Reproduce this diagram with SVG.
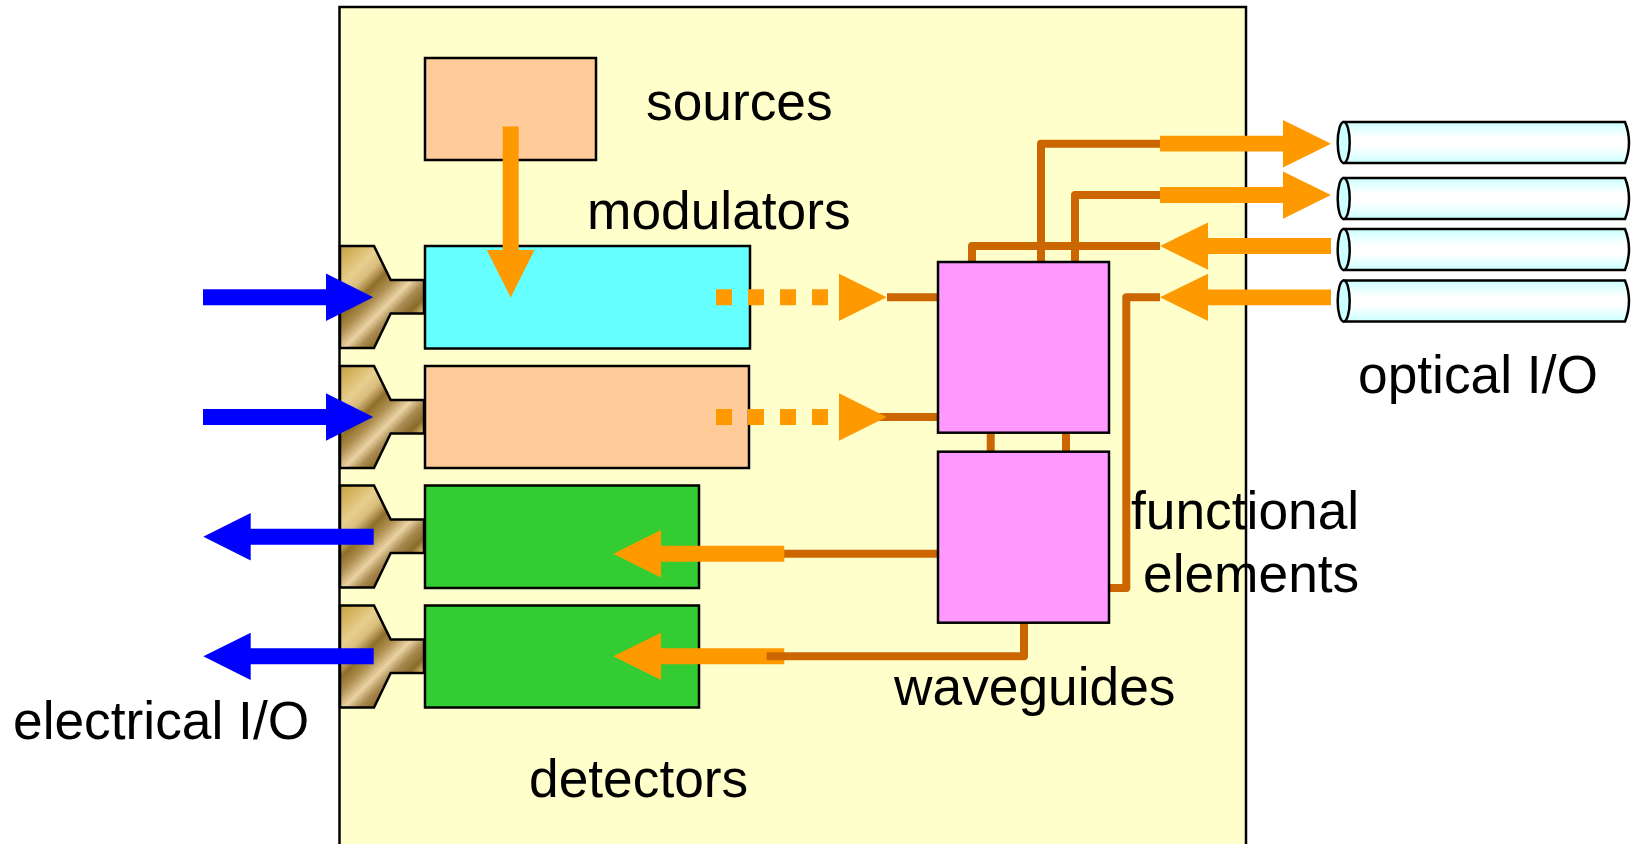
<svg xmlns="http://www.w3.org/2000/svg" width="1639" height="844" viewBox="0 0 1639 844">
<style>
.box{stroke:#000;stroke-width:2.5}
.wg{fill:none;stroke:#CC6600;stroke-width:8;stroke-linejoin:round}
.lt{fill:#FF9900}
.bl{fill:#0000FF}
.tube{fill:url(#tg);stroke:#000;stroke-width:2.5}
.cap{fill:#CCFFFF;stroke:#000;stroke-width:2.5}
.conn{fill:url(#gold);stroke:#000;stroke-width:2.5}
text{font-family:"Liberation Sans",Arial,sans-serif;font-size:53.3px;fill:#000}
</style>
<defs>
<linearGradient id="tg" x1="0" y1="0" x2="0" y2="1">
<stop offset="0" stop-color="#CCFFFF"/><stop offset=".4" stop-color="#FFFFFF"/><stop offset=".6" stop-color="#FFFFFF"/><stop offset="1" stop-color="#CCFFFF"/>
</linearGradient>
<linearGradient id="gold" gradientUnits="userSpaceOnUse" x1="0" y1="0" x2="75.700" y2="75.700">
<stop offset="0" stop-color="#C6A040"/><stop offset=".12" stop-color="#D4B45E"/><stop offset=".27" stop-color="#E8CF90"/><stop offset=".37" stop-color="#D8BC7C"/><stop offset=".48" stop-color="#8E6E28"/><stop offset=".58" stop-color="#B09050"/><stop offset=".7" stop-color="#EBD3A5"/><stop offset=".8" stop-color="#A88A50"/><stop offset=".9" stop-color="#8A6A28"/><stop offset="1" stop-color="#E8CC80"/>
</linearGradient>
<path id="cshape" class="conn" d="M0 0H34L50.700 34H84V67.500H50.700L34 102H0Z"/>
</defs>
<rect id="substrate" x="339.500" y="7" width="906.500" height="845" fill="#FFFFCC" stroke="#000" stroke-width="2.500"/>

<g id="connector1" transform="translate(340 246)"><use href="#cshape"/></g>
<g id="connector2" transform="translate(340 366)"><use href="#cshape"/></g>
<g id="connector3" transform="translate(340 485.500)"><use href="#cshape"/></g>
<g id="connector4" transform="translate(340 605.500)"><use href="#cshape"/></g>

<g id="source"><rect class="box" x="425" y="58" width="171" height="102" fill="#FFCC99"/></g>
<g id="modulator1"><rect class="box" x="425" y="246" width="325" height="102.500" fill="#66FFFF"/></g>
<g id="modulator2"><rect class="box" x="425" y="366" width="324" height="102" fill="#FFCC99"/></g>
<g id="detector1"><rect class="box" x="425" y="485.500" width="274" height="102.500" fill="#33CC33"/></g>
<g id="detector2"><rect class="box" x="425" y="605.500" width="274" height="102" fill="#33CC33"/></g>

<g id="connectors">
<path class="wg" d="M1160 143.700H1041V262"/>
<path class="wg" d="M1160 195H1075V262"/>
<path class="wg" d="M1160 246H972V262"/>
<path class="wg" d="M1160 297.300H1126.300V588H1109"/>
<path class="wg" d="M887 297.300H938"/>
<path class="wg" d="M878 417H938"/>
<path class="wg" d="M990.700 433V452"/>
<path class="wg" d="M1066 433V452"/>
<path class="wg" d="M784 553.700H938"/>

<path class="lt" d="M502.700 126.500H518.700V250H534.500L510.700 297.500L486.700 250H502.700Z"/>

<path class="lt" d="M1160 135.800H1283V120L1331 143.700L1283 167.500V151.500H1160Z"/>
<path class="lt" d="M1160 187H1283V171.500L1331 195L1283 218.800V203H1160Z"/>
<path class="lt" d="M1331 238H1208V222.500L1160 246L1208 269.800V254H1331Z"/>
<path class="lt" d="M1331 289.500H1208V273.700L1160 297.300L1208 321V305.300H1331Z"/>

<path class="lt" d="M716 289.300h16v16h-16zM748 289.300h16v16h-16zM780 289.300h16v16h-16zM812 289.300h16v16h-16z"/>
<path class="lt" d="M839 273.700L886.700 297.300L839 321Z"/>
<path class="lt" d="M716 409h16v16h-16zM748 409h16v16h-16zM780 409h16v16h-16zM812 409h16v16h-16z"/>
<path class="lt" d="M839 393.300L886.700 417L839 440.700Z"/>

<path class="lt" d="M784.300 545.700H661V530L613.300 553.700L661 577.500V561.700H784.300Z"/>
<path class="lt" d="M784.300 648.300H661V632.700L613.300 656.300L661 680V664.300H784.300Z"/>
<path class="wg" d="M1024 623V656.300H766.700"/>

<path class="bl" d="M203 289.300H326V273.500L373.300 297.300L326 321V305.300H203Z"/>
<path class="bl" d="M203 409H326V393.300L373.300 417L326 440.700V425H203Z"/>
<path class="bl" d="M373.700 528.700H250.700V513L203.300 536.700L250.700 560.500V544.700H373.700Z"/>
<path class="bl" d="M373.700 648.300H250.700V632.700L203.300 656.300L250.700 680V664.300H373.700Z"/>
</g>

<g id="block1"><rect class="box" x="938" y="262" width="171" height="170.700" fill="#FF99FF"/></g>
<g id="block2"><rect class="box" x="938" y="451.700" width="171" height="171" fill="#FF99FF"/></g>

<g id="fiber1"><path class="tube" d="M1344 122H1625Q1629 132 1629 142.500T1625 163H1344Z"/><ellipse class="cap" cx="1343.700" cy="142.500" rx="6" ry="20.500"/></g>
<g id="fiber2"><path class="tube" d="M1344 178H1625Q1629 188 1629 198.500T1625 219H1344Z"/><ellipse class="cap" cx="1343.700" cy="198.500" rx="6" ry="20.500"/></g>
<g id="fiber3"><path class="tube" d="M1344 229H1625Q1629 239 1629 249.500T1625 270H1344Z"/><ellipse class="cap" cx="1343.700" cy="249.500" rx="6" ry="20.500"/></g>
<g id="fiber4"><path class="tube" d="M1344 280.500H1625Q1629 290.500 1629 301T1625 321.500H1344Z"/><ellipse class="cap" cx="1343.700" cy="301" rx="6" ry="20.500"/></g>

<g id="labels">
<text x="646" y="120">sources</text>
<text x="587" y="229">modulators</text>
<text x="1358" y="393">optical I/O</text>
<text x="1131" y="529">functional</text>
<text x="1143" y="592">elements</text>
<text x="894" y="705">waveguides</text>
<text x="13" y="739">electrical I/O</text>
<text x="529" y="797">detectors</text>
</g>
</svg>
